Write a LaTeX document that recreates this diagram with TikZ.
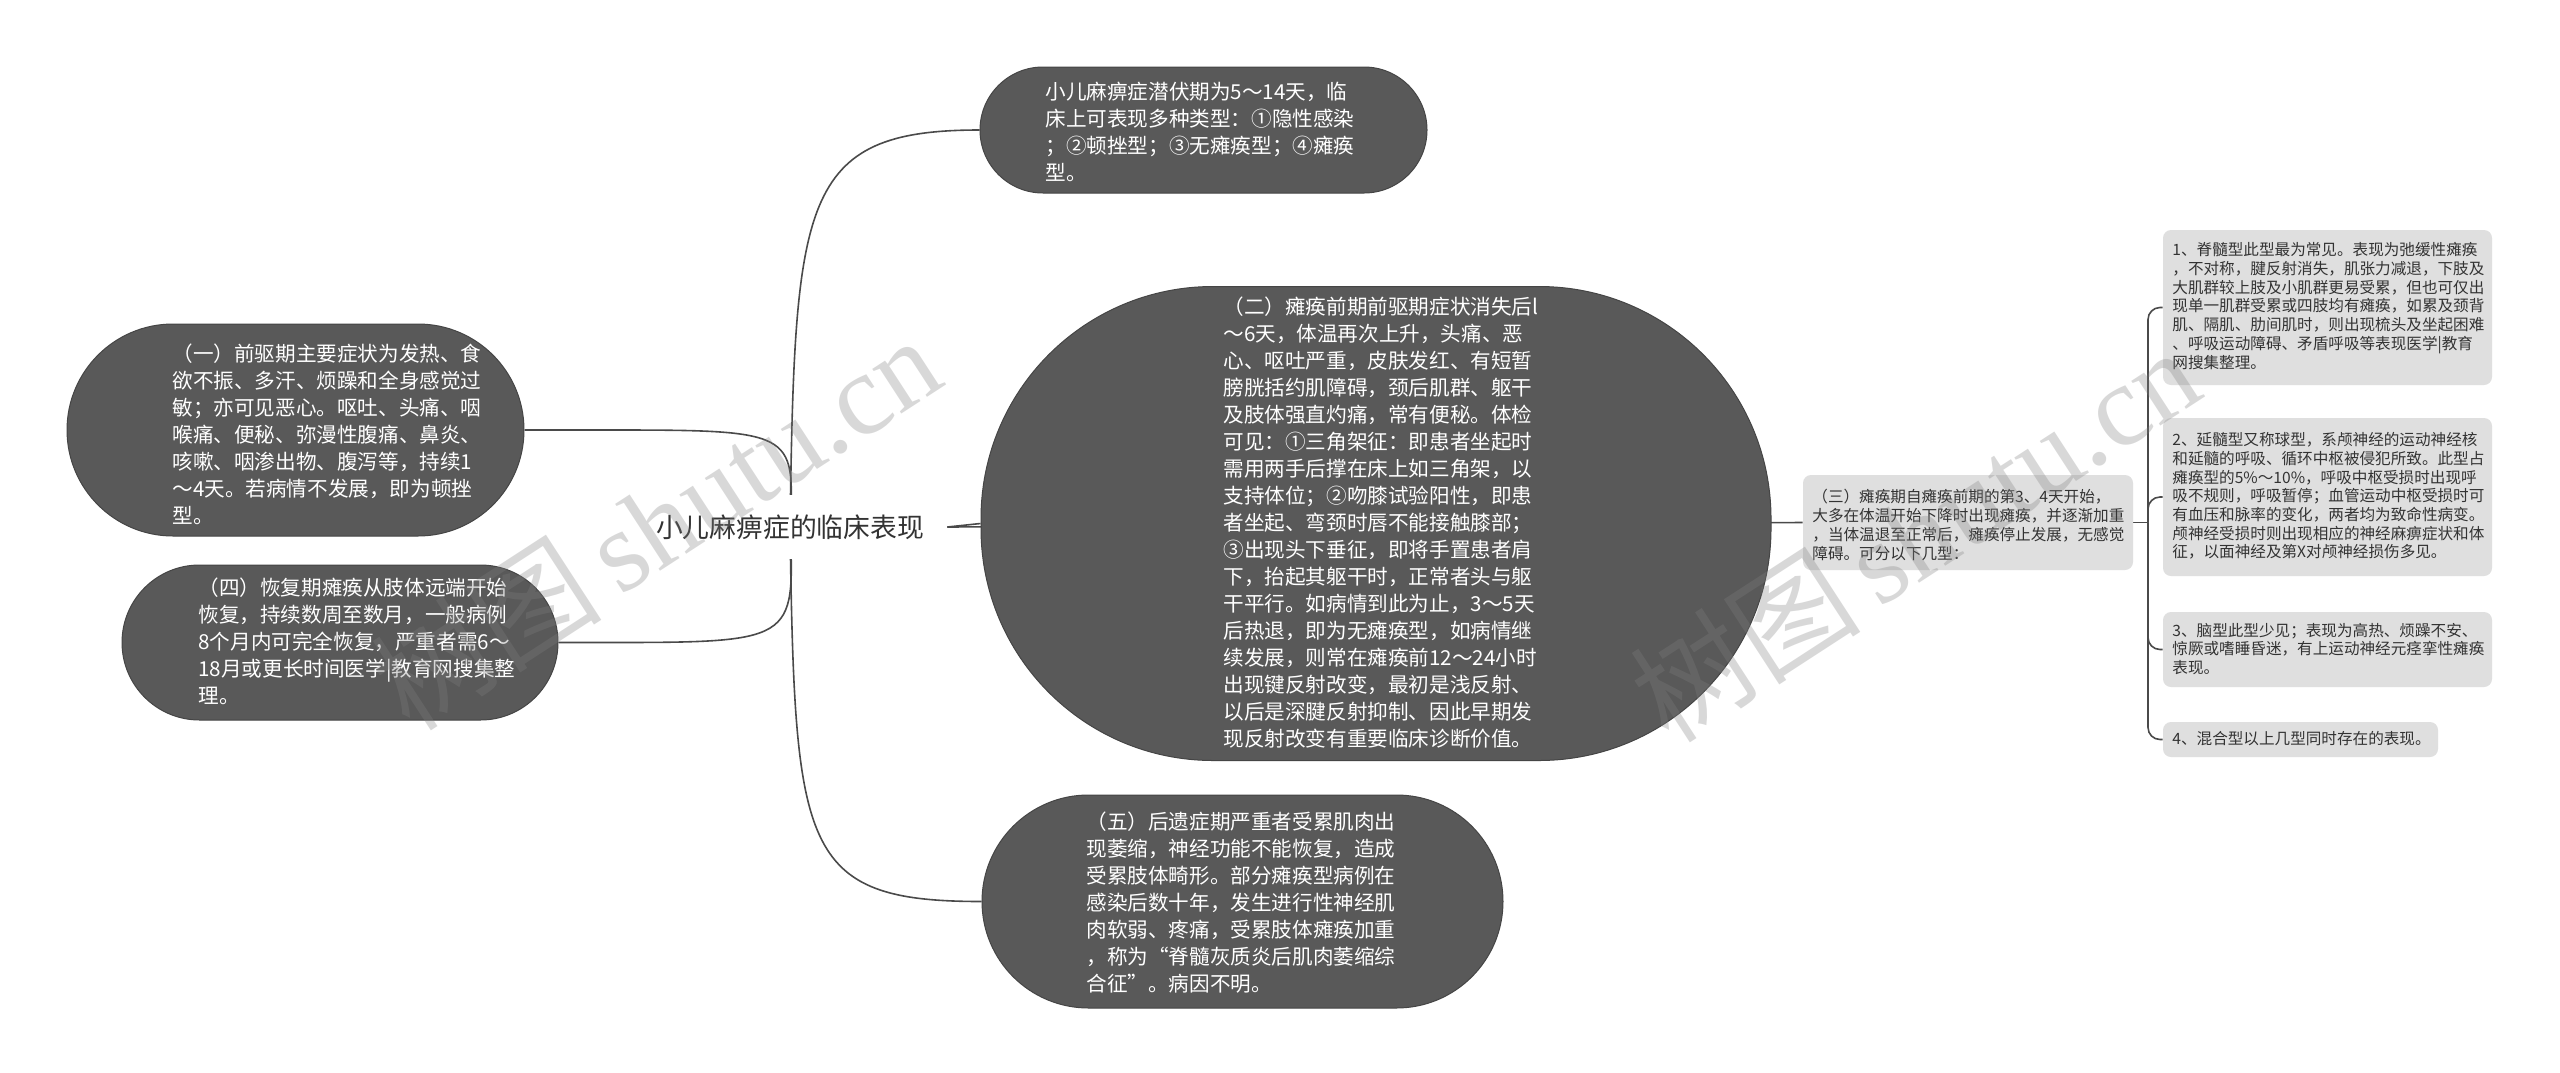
\documentclass[tikz,border=0pt]{standalone}
\usepackage{fontspec}
\setmainfont{Noto Sans CJK SC}
\newfontfamily\wmlatin{Liberation Serif}
\usetikzlibrary{shapes.misc,shapes.geometric}
\pgfdeclarelayer{bgfill}
\pgfdeclarelayer{edges}
\pgfsetlayers{bgfill,edges,main}
\definecolor{cdark}{HTML}{595959}
\definecolor{cdarkline}{HTML}{454545}
\definecolor{clight}{HTML}{DFDFDF}
\definecolor{ctext}{HTML}{333333}
\definecolor{cedge}{HTML}{4A4A4A}
\tikzset{
  darkbox/.style={rounded rectangle, fill=cdark, draw=cdarkline, line width=0.5pt, inner sep=0pt},
  lightbox/.style={rectangle, rounded corners=4pt, fill=clight, draw=none, inner sep=0pt},
  darktext/.style={text=white, align=left, inner sep=0pt, anchor=west, font=\fontsize{10.3pt}{13.5pt}\selectfont},
  lighttext/.style={text=ctext, align=left, inner sep=0pt, anchor=west, font=\fontsize{7.8pt}{9.35pt}\selectfont},
  edge/.style={draw=cedge, line width=0.8pt},
  wm/.style={text=gray, opacity=0.3, inner sep=0pt, font=\fontsize{58pt}{58pt}\selectfont},
}
\begin{document}
\begin{tikzpicture}[x=0.5pt,y=-0.5pt]
\begin{pgfonlayer}{bgfill}
\fill[white] (0,0) rectangle (2560,1072);
\end{pgfonlayer}
\useasboundingbox (0,0) rectangle (2560,1072);

% root
\node[fill=white, inner sep=0pt, minimum width=157pt, minimum height=32pt, text=ctext, font=\fontsize{13.4pt}{16pt}\selectfont] (root) at (790,527) {小儿麻痹症的临床表现};

% top node
\node[darkbox, minimum width=223.5pt, minimum height=63pt] (top) at (1203.5,130) {};
\node[darktext] (toptxt) at (1045,132) {小儿麻痹症潜伏期为5～14天，临\\床上可表现多种类型：①隐性感染\\；②顿挫型；③无瘫痪型；④瘫痪\\型。};

% (二) large rounded block
\node[rectangle, rounded corners=116pt, fill=cdark, draw=cdarkline, line width=0.5pt, inner sep=0pt, minimum width=395pt, minimum height=237pt] (two) at (1376,523.5) {};
\node[darktext] (twotxt) at (1223,522.5) {（二）瘫痪前期前驱期症状消失后l\\～6天，体温再次上升，头痛、恶\\心、呕吐严重，皮肤发红、有短暂\\膀胱括约肌障碍，颈后肌群、躯干\\及肢体强直灼痛，常有便秘。体检\\可见：①三角架征：即患者坐起时\\需用两手后撑在床上如三角架，以\\支持体位；②吻膝试验阳性，即患\\者坐起、弯颈时唇不能接触膝部；\\③出现头下垂征，即将手置患者肩\\下，抬起其躯干时，正常者头与躯\\干平行。如病情到此为止，3～5天\\后热退，即为无瘫痪型，如病情继\\续发展，则常在瘫痪前12～24小时\\出现键反射改变，最初是浅反射、\\以后是深腱反射抑制、因此早期发\\现反射改变有重要临床诊断价值。};

% (一)
\node[darkbox, minimum width=228.5pt, minimum height=106pt] (one) at (295.5,430) {};
\node[darktext] (onetxt) at (172,434) {（一）前驱期主要症状为发热、食\\欲不振、多汗、烦躁和全身感觉过\\敏；亦可见恶心。呕吐、头痛、咽\\喉痛、便秘、弥漫性腹痛、鼻炎、\\咳嗽、咽渗出物、腹泻等，持续1\\～4天。若病情不发展，即为顿挫\\型。};

% (四)
\node[darkbox, minimum width=218pt, minimum height=77.5pt] (four) at (340,642.5) {};
\node[darktext] (fourtxt) at (198,641) {（四）恢复期瘫痪从肢体远端开始\\恢复，持续数周至数月，一般病例\\8个月内可完全恢复，严重者需6～\\18月或更长时间医学|教育网搜集整\\理。};

% (五)
\node[darkbox, minimum width=260.5pt, minimum height=106.5pt] (five) at (1242.5,901.5) {};
\node[darktext] (fivetxt) at (1086,903) {（五）后遗症期严重者受累肌肉出\\现萎缩，神经功能不能恢复，造成\\受累肢体畸形。部分瘫痪型病例在\\感染后数十年，发生进行性神经肌\\肉软弱、疼痛，受累肢体瘫痪加重\\，称为“脊髓灰质炎后肌肉萎缩综\\合征”。病因不明。};

% (三)
\node[lightbox, minimum width=165pt, minimum height=47.5pt] (three) at (1968,522.5) {};
\node[lighttext] (threetxt) at (1812,525) {（三）瘫痪期自瘫痪前期的第3、4天开始，\\大多在体温开始下降时出现瘫痪，并逐渐加重\\，当体温退至正常后，瘫痪停止发展，无感觉\\障碍。可分以下几型：};

% list
\node[lightbox, minimum width=164.5pt, minimum height=77.5pt] (la) at (2327.5,307.5) {};
\node[lighttext] (latxt) at (2172,306) {1、脊髓型此型最为常见。表现为弛缓性瘫痪\\，不对称，腱反射消失，肌张力减退，下肢及\\大肌群较上肢及小肌群更易受累，但也可仅出\\现单一肌群受累或四肢均有瘫痪，如累及颈背\\肌、隔肌、肋间肌时，则出现梳头及坐起困难\\、呼吸运动障碍、矛盾呼吸等表现医学|教育\\网搜集整理。};

\node[lightbox, minimum width=164.5pt, minimum height=79pt] (lb) at (2327.5,497) {};
\node[lighttext] (lbtxt) at (2172,496) {2、延髓型又称球型，系颅神经的运动神经核\\和延髓的呼吸、循环中枢被侵犯所致。此型占\\瘫痪型的5\%～10\%，呼吸中枢受损时出现呼\\吸不规则，呼吸暂停；血管运动中枢受损时可\\有血压和脉率的变化，两者均为致命性病变。\\颅神经受损时则出现相应的神经麻痹症状和体\\征，以面神经及第X对颅神经损伤多见。};

\node[lightbox, minimum width=164.5pt, minimum height=37.5pt] (lc) at (2327.5,649.5) {};
\node[lighttext] (lctxt) at (2172,649) {3、脑型此型少见；表现为高热、烦躁不安、\\惊厥或嗜睡昏迷，有上运动神经元痉挛性瘫痪\\表现。};

\node[lightbox, minimum width=137.5pt, minimum height=17.5pt] (ld) at (2300.5,739.5) {};
\node[lighttext] (ldtxt) at (2172,739) {4、混合型以上几型同时存在的表现。};

\coordinate (spine) at (2148,522.5);

% connectors
\begin{pgfonlayer}{edges}
\draw[edge] (root.center) .. controls (795,200) and (800,130) .. (top.west);
\draw[edge] (root.center) .. controls (795,850) and (800,901.5) .. (five.west);
\draw[edge] (root.center) .. controls (795,430) .. (600,430) -- (one.east);
\draw[edge] (root.center) .. controls (795,642.5) .. (600,642.5) -- (four.east);
\draw[edge] (root.east) -- (two.west);
\draw[edge] (root.east) -- (three.west);
\draw[edge] (three.east) -- (spine);
\draw[edge, rounded corners=6pt] (spine) |- (la.west);
\draw[edge, rounded corners=6pt] (spine) |- (lb.west);
\draw[edge, rounded corners=6pt] (spine) |- (lc.west);
\draw[edge, rounded corners=6pt] (spine) |- (ld.west);
\end{pgfonlayer}

% watermarks
\node[wm, rotate=33] (wma) at (655,522) {树图\,{\wmlatin shutu.cn}};
\node[wm, rotate=33] (wmb) at (1914,534) {树图\,{\wmlatin shutu.cn}};
\end{tikzpicture}
\end{document}
